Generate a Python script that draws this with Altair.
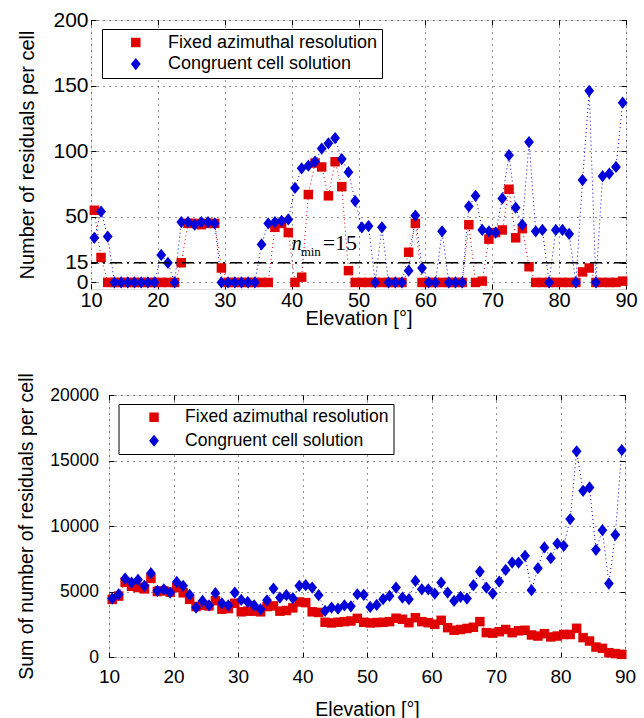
import altair as alt
import pandas as pd

# ---------------- data ----------------
elevation = [10.5, 11.5, 12.5, 13.5, 14.5, 15.5, 16.5, 17.5, 18.5, 19.5,
             20.5, 21.5, 22.5, 23.5, 24.5, 25.5, 26.5, 27.5, 28.5, 29.5,
             30.5, 31.5, 32.5, 33.5, 34.5, 35.5, 36.5, 37.5, 38.5, 39.5,
             40.5, 41.5, 42.5, 43.5, 44.5, 45.5, 46.5, 47.5, 48.5, 49.5,
             50.5, 51.5, 52.5, 53.5, 54.5, 55.5, 56.5, 57.5, 58.5, 59.5,
             60.5, 61.5, 62.5, 63.5, 64.5, 65.5, 66.5, 67.5, 68.5, 69.5,
             70.5, 71.5, 72.5, 73.5, 74.5, 75.5, 76.5, 77.5, 78.5, 79.5,
             80.5, 81.5, 82.5, 83.5, 84.5, 85.5, 86.5, 87.5, 88.5, 89.5]

fixed_count = [55, 19, 0, 0, 0, 0, 0, 0, 0, 0,
               0, 0, 0, 15, 45, 45, 44, 45, 45, 11,
               0, 0, 0, 0, 0, 0, 0, 42, 45, 38,
               0, 4, 67, 91, 88, 66, 92, 73, 9, 0,
               0, 0, 0, 0, 0, 0, 0, 23, 45, 0,
               0, 0, 0, 0, 0, 0, 44, 0, 1, 33,
               38, 40, 71, 34, 41, 12, 0, 0, 0, 0,
               0, 0, 0, 8, 11, 0, 0, 0, 0, 1]

congruent_count = [34, 54, 35, 0, 0, 0, 0, 0, 0, 0,
                   21, 15, 0, 46, 46, 44, 46, 46, 45, 0,
                   0, 0, 0, 0, 0, 29, 45, 46, 47, 48,
                   72, 87, 89, 92, 102, 106, 110, 94, 84, 62,
                   42, 43, 0, 42, 0, 0, 0, 9, 51, 11,
                   0, 0, 39, 0, 0, 0, 58, 66, 40, 39,
                   38, 64, 97, 57, 44, 107, 39, 40, 0, 40,
                   40, 37, 0, 78, 146, 0, 81, 83, 88, 137]

fixed_sum = [4400, 4650, 5700, 5400, 5300, 5200, 6000, 5000, 5050, 4950,
             5300, 4900, 4400, 3850, 3950, 3900, 4300, 3650, 3700, 4100,
             3450, 3500, 3500, 3450, 3850, 3900, 3500, 3550, 3750, 4200,
             4150, 3450, 3400, 2650, 2600, 2650, 2700, 2750, 2950, 2650,
             2600, 2630, 2650, 2700, 2960, 2880, 2620, 3000, 2700, 2620,
             2500, 2800, 2240, 2040, 2100, 2180, 2270, 2700, 1860, 1820,
             1930, 2100, 1860, 2000, 2040, 1680, 1600, 1780, 1530, 1600,
             1720, 1720, 2190, 1480, 1220, 760, 660, 330, 260, 200]

congruent_sum = [4460, 4790, 5990, 5680, 5890, 5430, 6400, 5050, 5170, 4920,
                 5730, 5430, 4740, 3770, 4280, 3950, 4870, 4100, 3950, 4920,
                 4360, 4200, 3950, 3640, 4330, 5220, 4540, 4720, 4490, 5430,
                 5480, 5300, 4720, 3520, 3770, 3690, 3950, 3870, 4790, 4750,
                 3820, 3970, 4410, 4660, 5300, 4540, 4410, 5810, 5170, 5170,
                 4840, 5680, 4920, 4280, 4590, 4460, 5480, 6520, 5300, 4840,
                 5760, 6650, 7210, 7210, 7720, 5100, 6780, 8360, 7540, 8660,
                 8490, 10530, 15700, 12690, 12940, 8180, 9680, 5610, 9330, 15800]

series_names = ["Fixed azimuthal resolution", "Congruent cell solution"]
x_ticks = [10, 20, 30, 40, 50, 60, 70, 80, 90]
top_y_ticks = [0, 15, 50, 100, 150, 200]
bottom_y_ticks = [0, 5000, 10000, 15000, 20000]
n_min = [15]

RED = "#e00000"
BLUE = "#0000d8"
DIAMOND = "M0,-1L0.8,0L0,1L-0.8,0Z"
SANS = "Liberation Sans"
SERIF = "Liberation Serif"
INWARD = alt.ExprRef(expr="-5")


def legend_symbol(marker):
    # dotted line sample (tiny filled dots) plus the marker, in unit symbol space
    parts = []
    pos = -5.4
    while pos < 5.4:
        if abs(pos + 0.1) > 1.15:
            parts.append("M%.2f,-0.1h0.2v0.2h-0.2Z" % pos)
        pos += 0.8
    return "".join(parts) + marker


SQ_LEG = legend_symbol("M-0.95,-0.95H0.95V0.95H-0.95Z")
DI_LEG = legend_symbol("M0,-1.2L1,0L0,1.2L-1,0Z")

is_first = "datum.value == '" + series_names[0] + "'"
leg_shape = alt.ExprRef(expr=is_first + " ? '" + SQ_LEG + "' : '" + DI_LEG + "'")
leg_fill = alt.ExprRef(expr=is_first + " ? '" + RED + "' : '" + BLUE + "'")


def long_frame(a, b):
    rows = []
    for name, vals in zip(series_names, [a, b]):
        for e, v in zip(elevation, vals):
            rows.append({"elevation": e, "value": v, "series": name})
    return pd.DataFrame(rows)


def main_axis(values, title, lab_fs, lab_pad, title_fs, title_pad):
    return alt.Axis(values=values, title=title, format="d",
                    labelFontSize=lab_fs, labelPadding=lab_pad + 5,
                    titleFontSize=title_fs, titlePadding=title_pad,
                    ticks=True, tickSize=INWARD, tickColor="black", tickWidth=1,
                    domain=False, grid=True,
                    gridColor="#000000", gridDash=[1, 5], gridOpacity=0.85,
                    labelColor="black", titleColor="black", labelOverlap=False,
                    titleFontWeight="normal", labelFont=SANS, titleFont=SANS,
                    labelFlush=False)


def mirror_axis(values, orient):
    return alt.Axis(values=values, orient=orient, title=None, labels=False,
                    ticks=True, tickSize=INWARD, tickColor="black", tickWidth=1,
                    domain=False, grid=False)


def panel(df, ydomain, yticks, ytitle, w, h, ylab_fs, xlab_fs, title_fs,
          ylab_pad, ytitle_pad, xlab_pad, xtitle_pad, leg_x, leg_y, leg_fs,
          leg_rowpad, sym_off, lab_off, extra=()):
    xsc = alt.Scale(domain=[10, 90], nice=False, zero=False)
    ysc = alt.Scale(domain=ydomain, nice=False, zero=False)
    x = alt.X("elevation:Q", scale=xsc,
              axis=main_axis(x_ticks, "Elevation [°]", xlab_fs, xlab_pad, title_fs, xtitle_pad))
    y = alt.Y("value:Q", scale=ysc,
              axis=main_axis(yticks, ytitle, ylab_fs, ylab_pad, title_fs, ytitle_pad))
    x_m = alt.X("elevation:Q", scale=xsc, axis=mirror_axis(x_ticks, "top"))
    y_m = alt.Y("value:Q", scale=ysc, axis=mirror_axis(yticks, "right"))
    x_n = alt.X("elevation:Q", scale=xsc, axis=None)
    y_n = alt.Y("value:Q", scale=ysc, axis=None)
    base = alt.Chart(df)
    legend = alt.Legend(orient="none", legendX=leg_x, legendY=leg_y, title=None,
                        symbolType=leg_shape, symbolFillColor=leg_fill,
                        symbolSize=100, symbolStrokeWidth=0,
                        symbolOffset=sym_off, labelOffset=lab_off, labelLimit=0,
                        labelFont=SANS, labelFontSize=leg_fs, labelColor="black",
                        padding=4.5, rowPadding=leg_rowpad, strokeColor="black",
                        fillColor="white", cornerRadius=0, zindex=1)
    lines = base.mark_line(strokeWidth=1, strokeDash=[1, 3]).encode(
        x=x, y=y,
        stroke=alt.Stroke("series:N",
                          scale=alt.Scale(domain=series_names, range=[RED, BLUE]),
                          legend=legend),
    )
    points = base.mark_point(filled=True, opacity=1).encode(
        x=x_m, y=y_m,
        color=alt.Color("series:N",
                        scale=alt.Scale(domain=series_names, range=[RED, BLUE]),
                        legend=None),
        shape=alt.Shape("series:N",
                        scale=alt.Scale(domain=series_names, range=["square", DIAMOND]),
                        legend=None),
        size=alt.Size("series:N",
                      scale=alt.Scale(domain=series_names, range=[90, 150]),
                      legend=None),
    )
    layers = [lines, points]
    for build in extra:
        layers.append(build(x_n, y_n))
    return alt.layer(*layers).resolve_axis(x="independent", y="independent").properties(
        width=w, height=h)


top_df = long_frame(fixed_count, congruent_count)
bottom_df = long_frame(fixed_sum, congruent_sum)

nmin_df = pd.DataFrame({"value": n_min})
label_df = pd.DataFrame({"elevation": [40], "value": [25]})


def nmin_rule(x, y):
    return alt.Chart(nmin_df).mark_rule(color="black", strokeWidth=1.5,
                                        strokeDash=[12, 5, 2, 5]).encode(y=y)


def t_n(x, y):
    return alt.Chart(label_df).mark_text(text="n", font=SERIF, fontStyle="italic",
                                         fontSize=20, align="left", baseline="alphabetic",
                                         color="black").encode(x=x, y=y)


def t_min(x, y):
    return alt.Chart(label_df).mark_text(text="min", font=SERIF, fontSize=13, dx=9, dy=6,
                                         align="left", baseline="alphabetic",
                                         color="black").encode(x=x, y=y)


def t_eq(x, y):
    return alt.Chart(label_df).mark_text(text="=15", font=SERIF, fontSize=22, dx=31,
                                         align="left", baseline="alphabetic",
                                         color="black").encode(x=x, y=y)


top = panel(top_df, [-5, 200], top_y_ticks, "Number of residuals per cell",
            535, 269, 21, 20, 20, 3, 15.5, 1, -2, 88, 9, 18, 3.6, 20.3, 23.1,
            extra=(nmin_rule, t_n, t_min, t_eq))

bottom = panel(bottom_df, [0, 20000], bottom_y_ticks, "Sum of number of residuals per cell",
               516, 262, 17.5, 19, 19.5, 10.5, 13, 10, 14, 104.5, 9, 17.5, 4.5, 22.3, 22.3)


def spacer():
    return alt.Chart(pd.DataFrame({"s": [""]})).mark_text(opacity=0).encode(
        text="s:N").properties(width=1, height=1,
                                view=alt.ViewBackground(stroke="transparent"))


row1 = alt.hconcat(spacer(), top, spacing=0)
row2 = alt.hconcat(spacer(), bottom, spacing=0)

chart = alt.vconcat(row1, row2, spacing=43).resolve_scale(
    stroke="independent", color="independent", shape="independent", size="independent"
).resolve_legend(stroke="independent").configure_view(
    stroke="black", strokeWidth=1.5
).configure(font=SANS).properties(
    padding={"left": 13, "top": 8, "right": 2, "bottom": 0},
    background="white",
)

chart.save("out.html", embed_options={"renderer": "svg", "actions": False})
